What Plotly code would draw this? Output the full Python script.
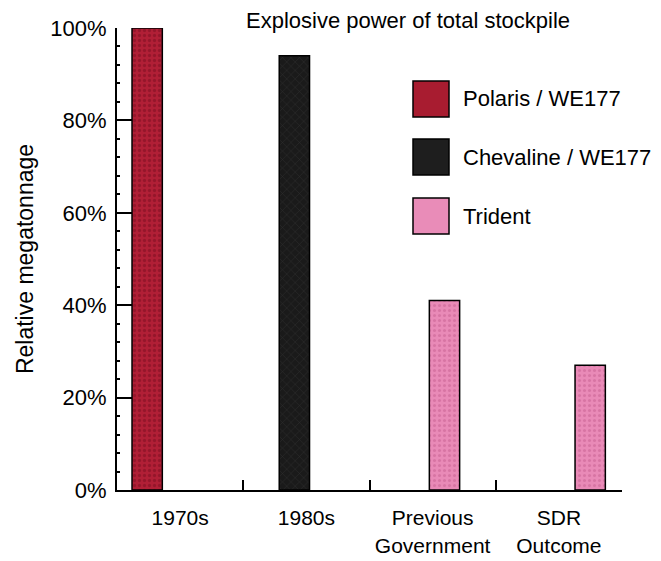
import plotly.graph_objects as go

# ---- data ----
categories = ["1970s", "1980s", "Previous<br>Government", "SDR<br>Outcome"]
series_names = ["Polaris / WE177", "Chevaline / WE177", "Trident"]
polaris = [1.00, None, None, None]
chevaline = [None, 0.94, None, None]
trident = [None, None, 0.41, 0.27]
y_tick_vals = [0, 0.2, 0.4, 0.6, 0.8, 1.0]
y_tick_text = ["0%", "20%", "40%", "60%", "80%", "100%"]

# ---- style ----
FONT = "Liberation Sans, Arial, sans-serif"
FS = 21
bar_width = 0.24
bar_offsets = [-0.381, -0.215, -0.026, 0.128]

styles = [
    dict(bg="#b11f36", fg="#7a0e1f", shape=".", size=5, sol=0.35),
    dict(bg="#1a1a1a", fg="#444444", shape="x", size=6, sol=0.15),
    dict(bg="#e98ab7", fg="#c65f90", shape=".", size=5, sol=0.3),
]
legend_solid = ["#a81c30", "#1e1e1e", "#e98cb8"]

fig = go.Figure()
for name, vals, st in zip(series_names, [polaris, chevaline, trident], styles):
    fig.add_trace(go.Bar(
        x=categories, y=vals, name=name,
        width=[bar_width] * len(categories),
        offset=bar_offsets,
        marker=dict(
            color=st["bg"],
            line=dict(color="black", width=1.5),
            pattern=dict(shape=st["shape"], bgcolor=st["bg"], fgcolor=st["fg"],
                         size=st["size"], solidity=st["sol"], fillmode="overlay"),
        ),
        showlegend=False,
    ))

# page has an 8px body margin: figure is 653x553, drawn at (8,8) in the window
OFF = 8
W, H = 661 - OFF, 561 - OFF
# plot area in window pixels
L, R, T, B = 117, 622, 28, 490
def px(x):
    return (x - L) / (R - L)
def py(y):
    return (B - y) / (B - T)

shapes = []
annotations = []
box_tops = [81, 139, 198]
for name, col, top in zip(series_names, legend_solid, box_tops):
    shapes.append(dict(type="rect", xref="paper", yref="paper",
                       x0=px(413), x1=px(449), y0=py(top + 36), y1=py(top),
                       fillcolor=col, line=dict(color="black", width=1.5)))
    annotations.append(dict(xref="paper", yref="paper", x=px(461), y=py(top + 18),
                            text=name, showarrow=False, xanchor="left", yanchor="middle",
                            font=dict(family=FONT, size=22, color="black")))

fig.update_layout(
    width=W, height=H,
    margin=dict(l=L - OFF, r=W - (R - OFF), t=T - OFF, b=H - (B - OFF), autoexpand=False),
    paper_bgcolor="white", plot_bgcolor="white",
    barmode="overlay",
    font=dict(family=FONT, size=FS, color="black"),
    title=dict(text="Explosive power of total stockpile", xref="container", yref="container",
               x=(408 - OFF) / W, xanchor="center", y=1 - (20 - OFF) / H, yanchor="middle",
               font=dict(family=FONT, size=22, color="black")),
    xaxis=dict(
        type="category", categoryorder="array", categoryarray=categories,
        range=[-0.5, 3.5], automargin=False,
        showline=True, linecolor="black", linewidth=2,
        ticks="inside", tickson="boundaries", ticklen=10, tickwidth=1.5, tickcolor="black",
        showgrid=False, zeroline=False,
        ticklabelstandoff=8,
        tickfont=dict(family=FONT, size=FS, color="black"),
    ),
    yaxis=dict(
        range=[0, 1], automargin=False,
        tickvals=y_tick_vals, ticktext=y_tick_text,
        showline=True, linecolor="black", linewidth=2,
        ticks="inside", ticklen=15, tickwidth=1.5, tickcolor="black",
        minor=dict(dtick=0.04, ticks="inside", ticklen=3, tickcolor="black", tickwidth=1.5),
        showgrid=False, zeroline=False,
        ticklabelstandoff=4,
        tickfont=dict(family=FONT, size=22, color="black"),
        title=dict(text="Relative megatonnage", standoff=10,
                   font=dict(family=FONT, size=23, color="black")),
    ),
    shapes=shapes,
    annotations=annotations,
)

fig.write_html("out.html")
